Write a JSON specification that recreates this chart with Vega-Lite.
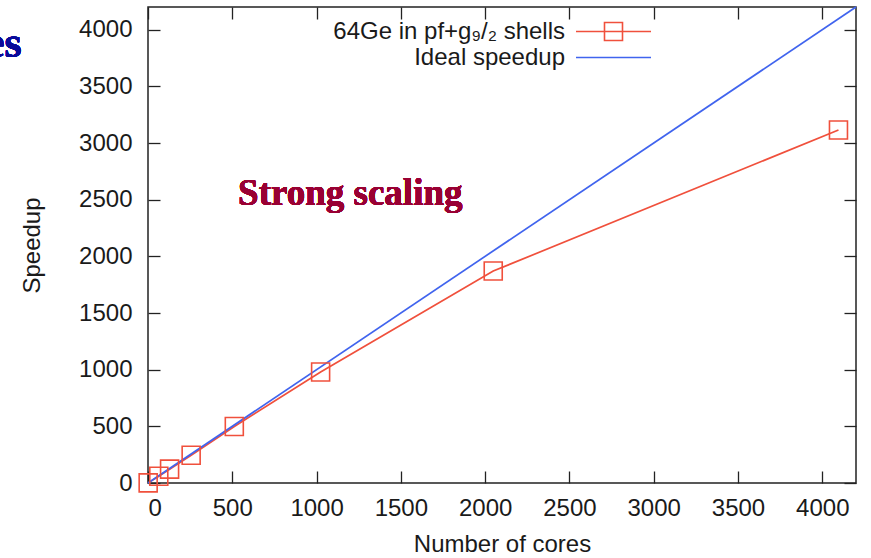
{
  "$schema": "https://vega.github.io/schema/vega-lite/v6.json",
  "description": "Strong scaling of 64Ge shell-model run: speedup against number of cores.",
  "width": 708,
  "height": 476,
  "autosize": {"type": "none"},
  "padding": {"left": 148, "top": 7, "right": 15, "bottom": 75},
  "background": "white",
  "config": {
    "view": {"stroke": "#222222", "strokeWidth": 1.5},
    "font": "Liberation Sans",
    "axis": {
      "labelFont": "Liberation Sans",
      "labelFontSize": 24,
      "labelColor": "#1a1a1a",
      "titleFont": "Liberation Sans",
      "titleFontSize": 24,
      "titleFontWeight": "normal",
      "titleColor": "#1a1a1a",
      "domain": false,
      "grid": false,
      "tickColor": "#222222",
      "tickWidth": 1.3,
      "tickSize": -12,
      "format": "d"
    }
  },
  "datasets": {
    "speedup": [
      {"cores": 1, "speedup": 1, "series": "64Ge in pf+g₉/₂ shells"},
      {"cores": 64, "speedup": 60, "series": "64Ge in pf+g₉/₂ shells"},
      {"cores": 128, "speedup": 122, "series": "64Ge in pf+g₉/₂ shells"},
      {"cores": 256, "speedup": 245, "series": "64Ge in pf+g₉/₂ shells"},
      {"cores": 512, "speedup": 498, "series": "64Ge in pf+g₉/₂ shells"},
      {"cores": 1024, "speedup": 980, "series": "64Ge in pf+g₉/₂ shells"},
      {"cores": 2048, "speedup": 1870, "series": "64Ge in pf+g₉/₂ shells"},
      {"cores": 4096, "speedup": 3115, "series": "64Ge in pf+g₉/₂ shells"},
      {"cores": 0, "speedup": 0, "series": "Ideal speedup"},
      {"cores": 4200, "speedup": 4200, "series": "Ideal speedup"}
    ]
  },
  "data": {"name": "speedup"},
  "resolve": {"scale": {"x": "independent", "y": "independent"}},
  "layer": [
    {
      "layer": [
        {
          "mark": {"type": "line", "strokeWidth": 1.7},
          "encoding": {
            "x": {
              "field": "cores",
              "type": "quantitative",
              "scale": {"domain": [0, 4200], "nice": false},
              "axis": {
                "title": "Number of cores",
                "values": [0, 500, 1000, 1500, 2000, 2500, 3000, 3500, 4000],
                "labelPadding": 25,
                "titlePadding": 12
              }
            },
            "y": {
              "field": "speedup",
              "type": "quantitative",
              "scale": {"domain": [0, 4200], "nice": false},
              "axis": {
                "title": "Speedup",
                "values": [0, 500, 1000, 1500, 2000, 2500, 3000, 3500, 4000],
                "labelPadding": 28,
                "titlePadding": 34
              }
            },
            "color": {
              "field": "series",
              "type": "nominal",
              "scale": {
                "domain": ["64Ge in pf+g₉/₂ shells", "Ideal speedup"],
                "range": ["#f0503c", "#4064ee"]
              },
              "legend": {
                "title": null,
                "orient": "none",
                "legendX": 452,
                "legendY": 11,
                "labelFont": "Liberation Sans",
                "labelFontSize": 24,
                "labelColor": "#1a1a1a",
                "labelAlign": "right",
                "labelOffset": -62,
                "labelLimit": 500,
                "symbolSize": 625,
                "symbolStrokeWidth": 1.6,
                "rowPadding": -5,
                "encode": {
                  "symbols": {
                    "update": {
                      "shape": {"signal": "datum.value === 'Ideal speedup' ? 'M-3,0H3' : 'M-3,0H3M-0.72,-0.72H0.72V0.72H-0.72Z'"},
                      "fill": {"value": "transparent"},
                      "stroke": {"scale": "color", "field": "value"},
                      "opacity": {"value": 1}
                    }
                  }
                }
              }
            }
          }
        },
        {
          "transform": [{"filter": "datum.series !== 'Ideal speedup'"}],
          "mark": {"type": "point", "shape": "square", "filled": false, "size": 324, "strokeWidth": 1.6, "opacity": 1},
          "encoding": {
            "x": {"field": "cores", "type": "quantitative", "scale": {"domain": [0, 4200], "nice": false}},
            "y": {"field": "speedup", "type": "quantitative", "scale": {"domain": [0, 4200], "nice": false}},
            "color": {"field": "series", "type": "nominal"}
          }
        },
        {
          "mark": {
            "type": "text",
            "text": "Strong scaling",
            "font": "Liberation Serif",
            "fontWeight": "bold",
            "fontSize": 37,
            "fill": "#990033",
            "align": "center",
            "baseline": "alphabetic"
          },
          "encoding": {
            "x": {"datum": 1200, "type": "quantitative", "scale": {"domain": [0, 4200], "nice": false}},
            "y": {"datum": 2455, "type": "quantitative", "scale": {"domain": [0, 4200], "nice": false}}
          }
        },
        {
          "mark": {
            "type": "text",
            "text": "es",
            "font": "Liberation Serif",
            "fontWeight": "bold",
            "fontSize": 44,
            "fill": "#0a0a9a",
            "align": "right",
            "baseline": "alphabetic"
          },
          "encoding": {
            "x": {"datum": -750, "type": "quantitative", "scale": {"domain": [0, 4200], "nice": false}},
            "y": {"datum": 3763, "type": "quantitative", "scale": {"domain": [0, 4200], "nice": false}}
          }
        }
      ]
    },
    {
      "transform": [{"filter": "datum.series === 'Ideal speedup'"}],
      "mark": {"type": "line", "opacity": 0},
      "encoding": {
        "x": {
          "field": "cores",
          "type": "quantitative",
          "scale": {"domain": [0, 4200], "nice": false},
          "axis": {"orient": "top", "labels": false, "title": null, "values": [0, 500, 1000, 1500, 2000, 2500, 3000, 3500, 4000]}
        },
        "y": {
          "field": "speedup",
          "type": "quantitative",
          "scale": {"domain": [0, 4200], "nice": false},
          "axis": {"orient": "right", "labels": false, "title": null, "values": [0, 500, 1000, 1500, 2000, 2500, 3000, 3500, 4000]}
        }
      }
    }
  ]
}
